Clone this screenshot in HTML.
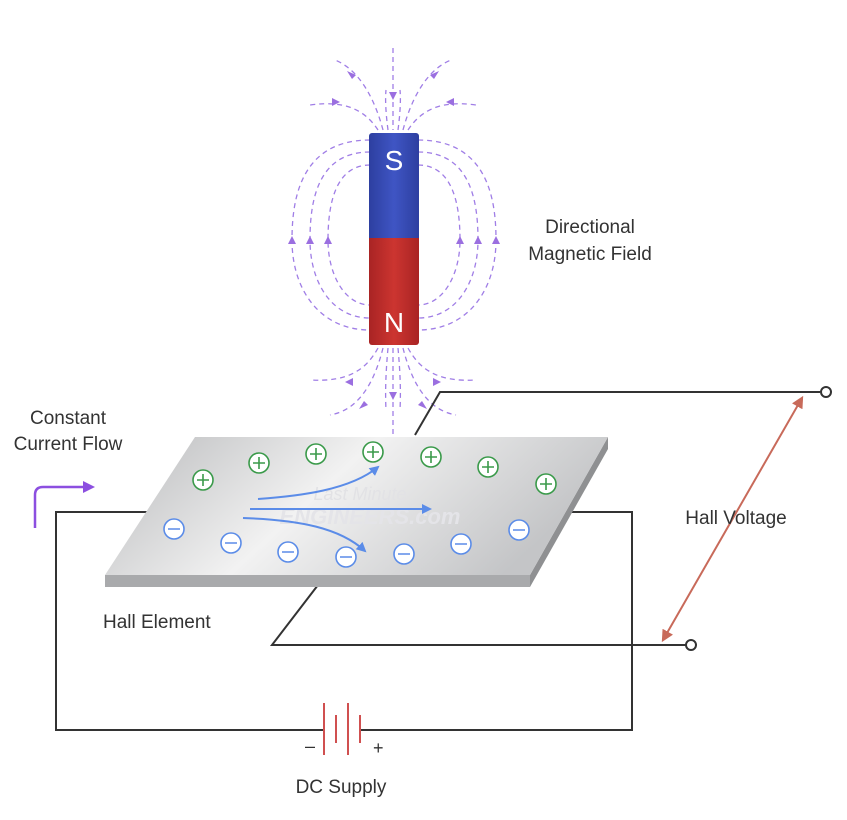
<!DOCTYPE html>
<html><head><meta charset="utf-8"><style>
html,body{margin:0;padding:0;background:#fff;}
svg{display:block;}
text{font-family:"Liberation Sans",sans-serif;}
</style></head><body>
<svg width="847" height="820" viewBox="0 0 847 820" xmlns="http://www.w3.org/2000/svg">
<defs>
<linearGradient id="plate" x1="0" y1="0" x2="1" y2="0.3">
<stop offset="0" stop-color="#b8b9bb"/><stop offset="0.5" stop-color="#f2f2f2"/><stop offset="1" stop-color="#c4c5c7"/>
</linearGradient>
<linearGradient id="blue" x1="0" x2="1"><stop offset="0" stop-color="#2d3fa0"/><stop offset="0.5" stop-color="#3f55c4"/><stop offset="1" stop-color="#2d3fa0"/></linearGradient>
<linearGradient id="red" x1="0" x2="1"><stop offset="0" stop-color="#a92424"/><stop offset="0.5" stop-color="#cc3530"/><stop offset="1" stop-color="#a92424"/></linearGradient>
<marker id="ba" viewBox="0 0 10 10" refX="8" refY="5" markerWidth="5" markerHeight="5" orient="auto"><path d="M0,0L10,5L0,10z" fill="#5b8ce8"/></marker>
<marker id="ra" viewBox="0 0 10 10" refX="8" refY="5" markerWidth="6" markerHeight="6" orient="auto-start-reverse"><path d="M0,0L10,5L0,10z" fill="#c86a5a"/></marker>
</defs>

<g fill="none" stroke="#a07ee6" stroke-width="1.3" stroke-dasharray="5,4">
<path d="M393,48 V130"/>
<path d="M393,348 V440"/>
<path d="M370,140 C300,140 292,200 292,240 C292,290 320,330 370,330"/>
<path d="M370,152 C318,152 310,200 310,240 C310,280 330,318 370,318"/>
<path d="M370,165 C335,165 328,205 328,240 C328,275 345,305 370,305"/>
<path d="M418,140 C488,140 496,200 496,240 C496,290 468,330 418,330"/>
<path d="M418,152 C470,152 478,200 478,240 C478,280 458,318 418,318"/>
<path d="M418,165 C453,165 460,205 460,240 C460,275 443,305 418,305"/>
<path d="M383,130 C375,100 360,70 335,60"/>
<path d="M403,130 C411,100 426,70 451,60"/>
<path d="M378,130 C365,110 345,100 310,105"/>
<path d="M408,130 C421,110 441,100 476,105"/>
<path d="M388,130 C386,115 385,100 386,90"/>
<path d="M398,130 C400,115 401,100 400,90"/>
<path d="M383,348 C375,380 360,410 330,415"/>
<path d="M403,348 C411,380 426,410 456,415"/>
<path d="M378,348 C365,372 345,382 310,380"/>
<path d="M408,348 C421,372 441,382 476,380"/>
<path d="M388,348 C386,370 385,390 386,410"/>
<path d="M398,348 C400,370 401,390 400,410"/>
</g>
<g fill="#9b6fe0">
<path d="M292,236l-4,8h8z"/><path d="M310,236l-4,8h8z"/><path d="M328,236l-4,8h8z"/>
<path d="M460,236l-4,8h8z"/><path d="M478,236l-4,8h8z"/><path d="M496,236l-4,8h8z"/>
<path d="M393,100l-4,-8h8z"/><path d="M393,400l-4,-8h8z"/>
<path d="M356,75l-9,-4l5,8z"/><path d="M430,75l9,-4l-5,8z"/>
<path d="M340,102l-8,-4v8z"/><path d="M446,102l8,-4v8z"/>
<path d="M345,382l8,-4v8z"/><path d="M441,382l-8,-4v8z"/>
<path d="M368,405l-9,4l5,-8z"/><path d="M418,405l9,4l-5,-8z"/>
</g>

<rect x="369" y="133" width="50" height="110" rx="3" fill="url(#blue)"/>
<rect x="369" y="240" width="50" height="105" rx="3" fill="url(#red)"/>
<rect x="369" y="238" width="50" height="6" fill="url(#red)"/>
<text x="394" y="170" font-size="28" fill="#fff" text-anchor="middle">S</text>
<text x="394" y="332" font-size="28" fill="#fff" text-anchor="middle">N</text>

<g fill="none" stroke="#333" stroke-width="2">
<path d="M415,435 L440,392 H820"/>
<path d="M318,585 L272,645 H686"/>
<path d="M150,512 H56 V730 H324"/>
<path d="M360,730 H632 V512 H570"/>
</g>
<circle cx="826" cy="392" r="5" fill="#fff" stroke="#333" stroke-width="2"/>
<circle cx="691" cy="645" r="5" fill="#fff" stroke="#333" stroke-width="2"/>

<path d="M105,575 L530,575 L530,587 L105,587z" fill="#a9aaac"/>
<path d="M530,575 L608,437 L608,449 L530,587z" fill="#8f9092"/>
<path d="M195,437 L608,437 L530,575 L105,575z" fill="url(#plate)"/>
<text x="360" y="500" font-size="18" font-style="italic" fill="#e2e2e5" text-anchor="middle">Last Minute</text>
<text x="370" y="524" font-size="22" font-weight="bold" font-style="italic" fill="#e4e4e8" text-anchor="middle">ENGINEERS.com</text>

<g fill="#fff" stroke="#3a9a4a" stroke-width="1.6">
<circle cx="203" cy="480" r="10"/><circle cx="259" cy="463" r="10"/><circle cx="316" cy="454" r="10"/><circle cx="373" cy="452" r="10"/><circle cx="431" cy="457" r="10"/><circle cx="488" cy="467" r="10"/><circle cx="546" cy="484" r="10"/>
</g>
<g stroke="#3a9a4a" stroke-width="1.6">
<path d="M197,480h12M203,474v12M253,463h12M259,457v12M310,454h12M316,448v12M367,452h12M373,446v12M425,457h12M431,451v12M482,467h12M488,461v12M540,484h12M546,478v12"/>
</g>
<g fill="#fff" stroke="#5b8ce8" stroke-width="1.6">
<circle cx="174" cy="529" r="10"/><circle cx="231" cy="543" r="10"/><circle cx="288" cy="552" r="10"/><circle cx="346" cy="557" r="10"/><circle cx="404" cy="554" r="10"/><circle cx="461" cy="544" r="10"/><circle cx="519" cy="530" r="10"/>
</g>
<g stroke="#5b8ce8" stroke-width="1.6">
<path d="M168,529h12M225,543h12M282,552h12M340,557h12M398,554h12M455,544h12M513,530h12"/>
</g>
<g fill="none" stroke="#5b8ce8" stroke-width="2">
<path d="M258,499 C300,496 350,490 378,467" marker-end="url(#ba)"/>
<path d="M250,509 H430" marker-end="url(#ba)"/>
<path d="M243,518 C300,520 340,528 365,551" marker-end="url(#ba)"/>
</g>

<path d="M35,528 V495 Q35,487 43,487 H88" fill="none" stroke="#8c4fe0" stroke-width="2.5"/>
<path d="M95,487 l-12,-6 v12z" fill="#8c4fe0"/>

<line x1="802" y1="398" x2="663" y2="640" stroke="#c86a5a" stroke-width="2" marker-start="url(#ra)" marker-end="url(#ra)"/>

<g stroke="#d05050" stroke-width="2">
<line x1="324" y1="703" x2="324" y2="755"/><line x1="336" y1="715" x2="336" y2="743"/>
<line x1="348" y1="703" x2="348" y2="755"/><line x1="360" y1="715" x2="360" y2="743"/>
</g>
<text x="305" y="752" font-size="18" fill="#333">–</text>
<text x="373" y="754" font-size="18" fill="#333">+</text>

<g font-size="19" fill="#333">
<text x="590" y="233" text-anchor="middle">Directional</text>
<text x="590" y="260" text-anchor="middle">Magnetic Field</text>
<text x="68" y="424" text-anchor="middle">Constant</text>
<text x="68" y="450" text-anchor="middle">Current Flow</text>
<text x="736" y="524" text-anchor="middle">Hall Voltage</text>
<text x="103" y="628">Hall Element</text>
<text x="341" y="793" text-anchor="middle">DC Supply</text>
</g>
</svg>
</body></html>
